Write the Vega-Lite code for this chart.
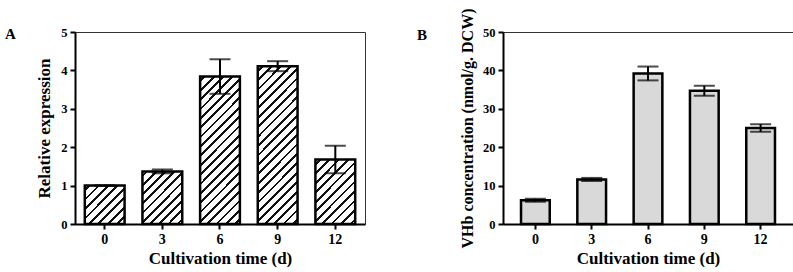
{
  "$schema": "https://vega.github.io/schema/vega-lite/v6.json",
  "padding": {"left": 4, "top": 7, "right": 0, "bottom": 0},
  "spacing": 50,
  "datasets": {
    "a": [
      {"t": 0, "v": 1.0, "e": 0},
      {"t": 3, "v": 1.37, "e": 0.05},
      {"t": 6, "v": 3.84, "e": 0.45},
      {"t": 9, "v": 4.11, "e": 0.13},
      {"t": 12, "v": 1.68, "e": 0.36}
    ],
    "b": [
      {"t": 0, "v": 6.2, "e": 0.4},
      {"t": 3, "v": 11.6, "e": 0.4},
      {"t": 6, "v": 39.2, "e": 1.8},
      {"t": 9, "v": 34.7, "e": 1.3},
      {"t": 12, "v": 25.0, "e": 1.0}
    ]
  },
  "hconcat": [
    {
      "title": {"text": "A", "anchor": "start", "frame": "group", "dx": -70, "dy": 28, "offset": 0, "baseline": "alphabetic"},
      "width": 290,
      "height": 192,
      "data": {"name": "a"},
      "encoding": {
        "x": {"field": "t", "type": "ordinal", "title": "Cultivation time (d)", "scale": {"paddingInner": 0.31, "paddingOuter": 0.17}, "axis": {"labelAngle": 0}},
        "y": {"field": "v", "type": "quantitative", "title": "Relative expression", "scale": {"domain": [0, 5]}, "axis": {"values": [0, 1, 2, 3, 4, 5]}}
      },
      "layer": [
        {
          "mark": {"type": "bar", "stroke": "#000000", "strokeWidth": 2.5},
          "encoding": {
            "fill": {
              "condition": [
                {"test": "datum.t == 0", "value": {"gradient": "linear", "x1": 0, "y1": 0, "x2": 1, "y2": 0.96, "stops": [
                  {"offset": 0, "color": "#ffffff"},
                  {"offset": 0.043, "color": "#ffffff"}, {"offset": 0.043, "color": "#111111"}, {"offset": 0.08, "color": "#111111"}, {"offset": 0.08, "color": "#ffffff"},
                  {"offset": 0.166, "color": "#ffffff"}, {"offset": 0.166, "color": "#111111"}, {"offset": 0.203, "color": "#111111"}, {"offset": 0.203, "color": "#ffffff"},
                  {"offset": 0.289, "color": "#ffffff"}, {"offset": 0.289, "color": "#111111"}, {"offset": 0.326, "color": "#111111"}, {"offset": 0.326, "color": "#ffffff"},
                  {"offset": 0.412, "color": "#ffffff"}, {"offset": 0.412, "color": "#111111"}, {"offset": 0.449, "color": "#111111"}, {"offset": 0.449, "color": "#ffffff"},
                  {"offset": 0.535, "color": "#ffffff"}, {"offset": 0.535, "color": "#111111"}, {"offset": 0.572, "color": "#111111"}, {"offset": 0.572, "color": "#ffffff"},
                  {"offset": 0.658, "color": "#ffffff"}, {"offset": 0.658, "color": "#111111"}, {"offset": 0.695, "color": "#111111"}, {"offset": 0.695, "color": "#ffffff"},
                  {"offset": 0.781, "color": "#ffffff"}, {"offset": 0.781, "color": "#111111"}, {"offset": 0.818, "color": "#111111"}, {"offset": 0.818, "color": "#ffffff"},
                  {"offset": 0.904, "color": "#ffffff"}, {"offset": 0.904, "color": "#111111"}, {"offset": 0.941, "color": "#111111"}, {"offset": 0.941, "color": "#ffffff"},
                  {"offset": 1, "color": "#ffffff"}
                ]}},
                {"test": "datum.t == 3", "value": {"gradient": "linear", "x1": 0, "y1": 0, "x2": 0.848, "y2": 1.115, "stops": [
                  {"offset": 0, "color": "#ffffff"},
                  {"offset": 0.035, "color": "#ffffff"}, {"offset": 0.035, "color": "#111111"}, {"offset": 0.065, "color": "#111111"}, {"offset": 0.065, "color": "#ffffff"},
                  {"offset": 0.135, "color": "#ffffff"}, {"offset": 0.135, "color": "#111111"}, {"offset": 0.165, "color": "#111111"}, {"offset": 0.165, "color": "#ffffff"},
                  {"offset": 0.235, "color": "#ffffff"}, {"offset": 0.235, "color": "#111111"}, {"offset": 0.265, "color": "#111111"}, {"offset": 0.265, "color": "#ffffff"},
                  {"offset": 0.335, "color": "#ffffff"}, {"offset": 0.335, "color": "#111111"}, {"offset": 0.365, "color": "#111111"}, {"offset": 0.365, "color": "#ffffff"},
                  {"offset": 0.435, "color": "#ffffff"}, {"offset": 0.435, "color": "#111111"}, {"offset": 0.465, "color": "#111111"}, {"offset": 0.465, "color": "#ffffff"},
                  {"offset": 0.535, "color": "#ffffff"}, {"offset": 0.535, "color": "#111111"}, {"offset": 0.565, "color": "#111111"}, {"offset": 0.565, "color": "#ffffff"},
                  {"offset": 0.635, "color": "#ffffff"}, {"offset": 0.635, "color": "#111111"}, {"offset": 0.665, "color": "#111111"}, {"offset": 0.665, "color": "#ffffff"},
                  {"offset": 0.735, "color": "#ffffff"}, {"offset": 0.735, "color": "#111111"}, {"offset": 0.765, "color": "#111111"}, {"offset": 0.765, "color": "#ffffff"},
                  {"offset": 0.835, "color": "#ffffff"}, {"offset": 0.835, "color": "#111111"}, {"offset": 0.865, "color": "#111111"}, {"offset": 0.865, "color": "#ffffff"},
                  {"offset": 0.935, "color": "#ffffff"}, {"offset": 0.935, "color": "#111111"}, {"offset": 0.965, "color": "#111111"}, {"offset": 0.965, "color": "#ffffff"},
                  {"offset": 1, "color": "#ffffff"}
                ]}},
                {"test": "datum.t == 6", "value": {"gradient": "linear", "x1": 0, "y1": 0, "x2": 0.321, "y2": 1.184, "stops": [
                  {"offset": 0, "color": "#ffffff"},
                  {"offset": 0.0175, "color": "#ffffff"}, {"offset": 0.0175, "color": "#111111"}, {"offset": 0.0325, "color": "#111111"}, {"offset": 0.0325, "color": "#ffffff"},
                  {"offset": 0.0675, "color": "#ffffff"}, {"offset": 0.0675, "color": "#111111"}, {"offset": 0.0825, "color": "#111111"}, {"offset": 0.0825, "color": "#ffffff"},
                  {"offset": 0.1175, "color": "#ffffff"}, {"offset": 0.1175, "color": "#111111"}, {"offset": 0.1325, "color": "#111111"}, {"offset": 0.1325, "color": "#ffffff"},
                  {"offset": 0.1675, "color": "#ffffff"}, {"offset": 0.1675, "color": "#111111"}, {"offset": 0.1825, "color": "#111111"}, {"offset": 0.1825, "color": "#ffffff"},
                  {"offset": 0.2175, "color": "#ffffff"}, {"offset": 0.2175, "color": "#111111"}, {"offset": 0.2325, "color": "#111111"}, {"offset": 0.2325, "color": "#ffffff"},
                  {"offset": 0.2675, "color": "#ffffff"}, {"offset": 0.2675, "color": "#111111"}, {"offset": 0.2825, "color": "#111111"}, {"offset": 0.2825, "color": "#ffffff"},
                  {"offset": 0.3175, "color": "#ffffff"}, {"offset": 0.3175, "color": "#111111"}, {"offset": 0.3325, "color": "#111111"}, {"offset": 0.3325, "color": "#ffffff"},
                  {"offset": 0.3675, "color": "#ffffff"}, {"offset": 0.3675, "color": "#111111"}, {"offset": 0.3825, "color": "#111111"}, {"offset": 0.3825, "color": "#ffffff"},
                  {"offset": 0.4175, "color": "#ffffff"}, {"offset": 0.4175, "color": "#111111"}, {"offset": 0.4325, "color": "#111111"}, {"offset": 0.4325, "color": "#ffffff"},
                  {"offset": 0.4675, "color": "#ffffff"}, {"offset": 0.4675, "color": "#111111"}, {"offset": 0.4825, "color": "#111111"}, {"offset": 0.4825, "color": "#ffffff"},
                  {"offset": 0.5175, "color": "#ffffff"}, {"offset": 0.5175, "color": "#111111"}, {"offset": 0.5325, "color": "#111111"}, {"offset": 0.5325, "color": "#ffffff"},
                  {"offset": 0.5675, "color": "#ffffff"}, {"offset": 0.5675, "color": "#111111"}, {"offset": 0.5825, "color": "#111111"}, {"offset": 0.5825, "color": "#ffffff"},
                  {"offset": 0.6175, "color": "#ffffff"}, {"offset": 0.6175, "color": "#111111"}, {"offset": 0.6325, "color": "#111111"}, {"offset": 0.6325, "color": "#ffffff"},
                  {"offset": 0.6675, "color": "#ffffff"}, {"offset": 0.6675, "color": "#111111"}, {"offset": 0.6825, "color": "#111111"}, {"offset": 0.6825, "color": "#ffffff"},
                  {"offset": 0.7175, "color": "#ffffff"}, {"offset": 0.7175, "color": "#111111"}, {"offset": 0.7325, "color": "#111111"}, {"offset": 0.7325, "color": "#ffffff"},
                  {"offset": 0.7675, "color": "#ffffff"}, {"offset": 0.7675, "color": "#111111"}, {"offset": 0.7825, "color": "#111111"}, {"offset": 0.7825, "color": "#ffffff"},
                  {"offset": 0.8175, "color": "#ffffff"}, {"offset": 0.8175, "color": "#111111"}, {"offset": 0.8325, "color": "#111111"}, {"offset": 0.8325, "color": "#ffffff"},
                  {"offset": 0.8675, "color": "#ffffff"}, {"offset": 0.8675, "color": "#111111"}, {"offset": 0.8825, "color": "#111111"}, {"offset": 0.8825, "color": "#ffffff"},
                  {"offset": 0.9175, "color": "#ffffff"}, {"offset": 0.9175, "color": "#111111"}, {"offset": 0.9325, "color": "#111111"}, {"offset": 0.9325, "color": "#ffffff"},
                  {"offset": 0.9675, "color": "#ffffff"}, {"offset": 0.9675, "color": "#111111"}, {"offset": 0.9825, "color": "#111111"}, {"offset": 0.9825, "color": "#ffffff"},
                  {"offset": 1, "color": "#ffffff"}
                ]}},
                {"test": "datum.t == 9", "value": {"gradient": "linear", "x1": 0, "y1": 0, "x2": 0.2986, "y2": 1.178, "stops": [
                  {"offset": 0, "color": "#ffffff"},
                  {"offset": 0.0167, "color": "#ffffff"}, {"offset": 0.0167, "color": "#111111"}, {"offset": 0.031, "color": "#111111"}, {"offset": 0.031, "color": "#ffffff"},
                  {"offset": 0.0643, "color": "#ffffff"}, {"offset": 0.0643, "color": "#111111"}, {"offset": 0.0786, "color": "#111111"}, {"offset": 0.0786, "color": "#ffffff"},
                  {"offset": 0.1119, "color": "#ffffff"}, {"offset": 0.1119, "color": "#111111"}, {"offset": 0.1262, "color": "#111111"}, {"offset": 0.1262, "color": "#ffffff"},
                  {"offset": 0.1595, "color": "#ffffff"}, {"offset": 0.1595, "color": "#111111"}, {"offset": 0.1738, "color": "#111111"}, {"offset": 0.1738, "color": "#ffffff"},
                  {"offset": 0.2071, "color": "#ffffff"}, {"offset": 0.2071, "color": "#111111"}, {"offset": 0.2214, "color": "#111111"}, {"offset": 0.2214, "color": "#ffffff"},
                  {"offset": 0.2548, "color": "#ffffff"}, {"offset": 0.2548, "color": "#111111"}, {"offset": 0.269, "color": "#111111"}, {"offset": 0.269, "color": "#ffffff"},
                  {"offset": 0.3024, "color": "#ffffff"}, {"offset": 0.3024, "color": "#111111"}, {"offset": 0.3167, "color": "#111111"}, {"offset": 0.3167, "color": "#ffffff"},
                  {"offset": 0.35, "color": "#ffffff"}, {"offset": 0.35, "color": "#111111"}, {"offset": 0.3643, "color": "#111111"}, {"offset": 0.3643, "color": "#ffffff"},
                  {"offset": 0.3976, "color": "#ffffff"}, {"offset": 0.3976, "color": "#111111"}, {"offset": 0.4119, "color": "#111111"}, {"offset": 0.4119, "color": "#ffffff"},
                  {"offset": 0.4452, "color": "#ffffff"}, {"offset": 0.4452, "color": "#111111"}, {"offset": 0.4595, "color": "#111111"}, {"offset": 0.4595, "color": "#ffffff"},
                  {"offset": 0.4929, "color": "#ffffff"}, {"offset": 0.4929, "color": "#111111"}, {"offset": 0.5071, "color": "#111111"}, {"offset": 0.5071, "color": "#ffffff"},
                  {"offset": 0.5405, "color": "#ffffff"}, {"offset": 0.5405, "color": "#111111"}, {"offset": 0.5548, "color": "#111111"}, {"offset": 0.5548, "color": "#ffffff"},
                  {"offset": 0.5881, "color": "#ffffff"}, {"offset": 0.5881, "color": "#111111"}, {"offset": 0.6024, "color": "#111111"}, {"offset": 0.6024, "color": "#ffffff"},
                  {"offset": 0.6357, "color": "#ffffff"}, {"offset": 0.6357, "color": "#111111"}, {"offset": 0.65, "color": "#111111"}, {"offset": 0.65, "color": "#ffffff"},
                  {"offset": 0.6833, "color": "#ffffff"}, {"offset": 0.6833, "color": "#111111"}, {"offset": 0.6976, "color": "#111111"}, {"offset": 0.6976, "color": "#ffffff"},
                  {"offset": 0.731, "color": "#ffffff"}, {"offset": 0.731, "color": "#111111"}, {"offset": 0.7452, "color": "#111111"}, {"offset": 0.7452, "color": "#ffffff"},
                  {"offset": 0.7786, "color": "#ffffff"}, {"offset": 0.7786, "color": "#111111"}, {"offset": 0.7929, "color": "#111111"}, {"offset": 0.7929, "color": "#ffffff"},
                  {"offset": 0.8262, "color": "#ffffff"}, {"offset": 0.8262, "color": "#111111"}, {"offset": 0.8405, "color": "#111111"}, {"offset": 0.8405, "color": "#ffffff"},
                  {"offset": 0.8738, "color": "#ffffff"}, {"offset": 0.8738, "color": "#111111"}, {"offset": 0.8881, "color": "#111111"}, {"offset": 0.8881, "color": "#ffffff"},
                  {"offset": 0.9214, "color": "#ffffff"}, {"offset": 0.9214, "color": "#111111"}, {"offset": 0.9357, "color": "#111111"}, {"offset": 0.9357, "color": "#ffffff"},
                  {"offset": 0.969, "color": "#ffffff"}, {"offset": 0.969, "color": "#111111"}, {"offset": 0.9833, "color": "#111111"}, {"offset": 0.9833, "color": "#ffffff"},
                  {"offset": 1, "color": "#ffffff"}
                ]}}
              ],
              "value": {"gradient": "linear", "x1": 0, "y1": 0, "x2": 0.726, "y2": 1.17, "stops": [
                {"offset": 0, "color": "#ffffff"},
                {"offset": 0.0318, "color": "#ffffff"}, {"offset": 0.0318, "color": "#111111"}, {"offset": 0.0591, "color": "#111111"}, {"offset": 0.0591, "color": "#ffffff"},
                {"offset": 0.1227, "color": "#ffffff"}, {"offset": 0.1227, "color": "#111111"}, {"offset": 0.15, "color": "#111111"}, {"offset": 0.15, "color": "#ffffff"},
                {"offset": 0.2136, "color": "#ffffff"}, {"offset": 0.2136, "color": "#111111"}, {"offset": 0.2409, "color": "#111111"}, {"offset": 0.2409, "color": "#ffffff"},
                {"offset": 0.3045, "color": "#ffffff"}, {"offset": 0.3045, "color": "#111111"}, {"offset": 0.3318, "color": "#111111"}, {"offset": 0.3318, "color": "#ffffff"},
                {"offset": 0.3955, "color": "#ffffff"}, {"offset": 0.3955, "color": "#111111"}, {"offset": 0.4227, "color": "#111111"}, {"offset": 0.4227, "color": "#ffffff"},
                {"offset": 0.4864, "color": "#ffffff"}, {"offset": 0.4864, "color": "#111111"}, {"offset": 0.5136, "color": "#111111"}, {"offset": 0.5136, "color": "#ffffff"},
                {"offset": 0.5773, "color": "#ffffff"}, {"offset": 0.5773, "color": "#111111"}, {"offset": 0.6045, "color": "#111111"}, {"offset": 0.6045, "color": "#ffffff"},
                {"offset": 0.6682, "color": "#ffffff"}, {"offset": 0.6682, "color": "#111111"}, {"offset": 0.6955, "color": "#111111"}, {"offset": 0.6955, "color": "#ffffff"},
                {"offset": 0.7591, "color": "#ffffff"}, {"offset": 0.7591, "color": "#111111"}, {"offset": 0.7864, "color": "#111111"}, {"offset": 0.7864, "color": "#ffffff"},
                {"offset": 0.85, "color": "#ffffff"}, {"offset": 0.85, "color": "#111111"}, {"offset": 0.8773, "color": "#111111"}, {"offset": 0.8773, "color": "#ffffff"},
                {"offset": 0.9409, "color": "#ffffff"}, {"offset": 0.9409, "color": "#111111"}, {"offset": 0.9682, "color": "#111111"}, {"offset": 0.9682, "color": "#ffffff"},
                {"offset": 1, "color": "#ffffff"}
              ]}
            }
          }
        },
        {
          "mark": {"type": "errorbar", "ticks": true, "size": 21, "thickness": 2, "color": "#000000"},
          "encoding": {"yError": {"field": "e"}}
        }
      ]
    },
    {
      "title": {"text": "B", "anchor": "start", "frame": "group", "dx": -86, "dy": 47, "offset": 0, "baseline": "alphabetic"},
      "width": 290,
      "height": 192,
      "data": {"name": "b"},
      "encoding": {
        "x": {"field": "t", "type": "ordinal", "title": "Cultivation time (d)", "scale": {"paddingInner": 0.49, "paddingOuter": 0.32}, "axis": {"labelAngle": 0}},
        "y": {"field": "v", "type": "quantitative", "title": "VHb concentration (nmol/g. DCW)", "scale": {"domain": [0, 50]}, "axis": {"values": [0, 10, 20, 30, 40, 50], "titleFontSize": 16}}
      },
      "layer": [
        {"mark": {"type": "bar", "fill": "#d9d9d9", "stroke": "#000000", "strokeWidth": 2.5}},
        {
          "mark": {"type": "errorbar", "ticks": true, "size": 21, "thickness": 2, "color": "#000000"},
          "encoding": {"yError": {"field": "e"}}
        }
      ]
    }
  ],
  "config": {
    "font": "Liberation Serif",
    "background": "#ffffff",
    "view": {"stroke": "#333333", "strokeWidth": 1, "fill": {"gradient": "linear", "x1": 0, "y1": 0, "x2": 1, "y2": 0, "stops": [{"offset": 0, "color": "#ffffff"}, {"offset": 1, "color": "#ffffff"}]}},
    "axis": {
      "domainColor": "#000000", "domainWidth": 2, "tickColor": "#000000", "tickWidth": 2, "tickSize": 5, "grid": false,
      "labelFont": "Liberation Serif", "labelFontSize": 12.5, "labelFontWeight": "bold", "labelColor": "#000000",
      "titleFont": "Liberation Serif", "titleFontSize": 17, "titleFontWeight": "bold", "titleColor": "#000000"
    },
    "axisX": {"labelPadding": 3, "labelFontSize": 14, "titlePadding": 4},
    "axisY": {"labelPadding": 3, "titlePadding": 7},
    "title": {"font": "Liberation Serif", "fontSize": 15, "fontWeight": "bold", "color": "#000000"}
  }
}
